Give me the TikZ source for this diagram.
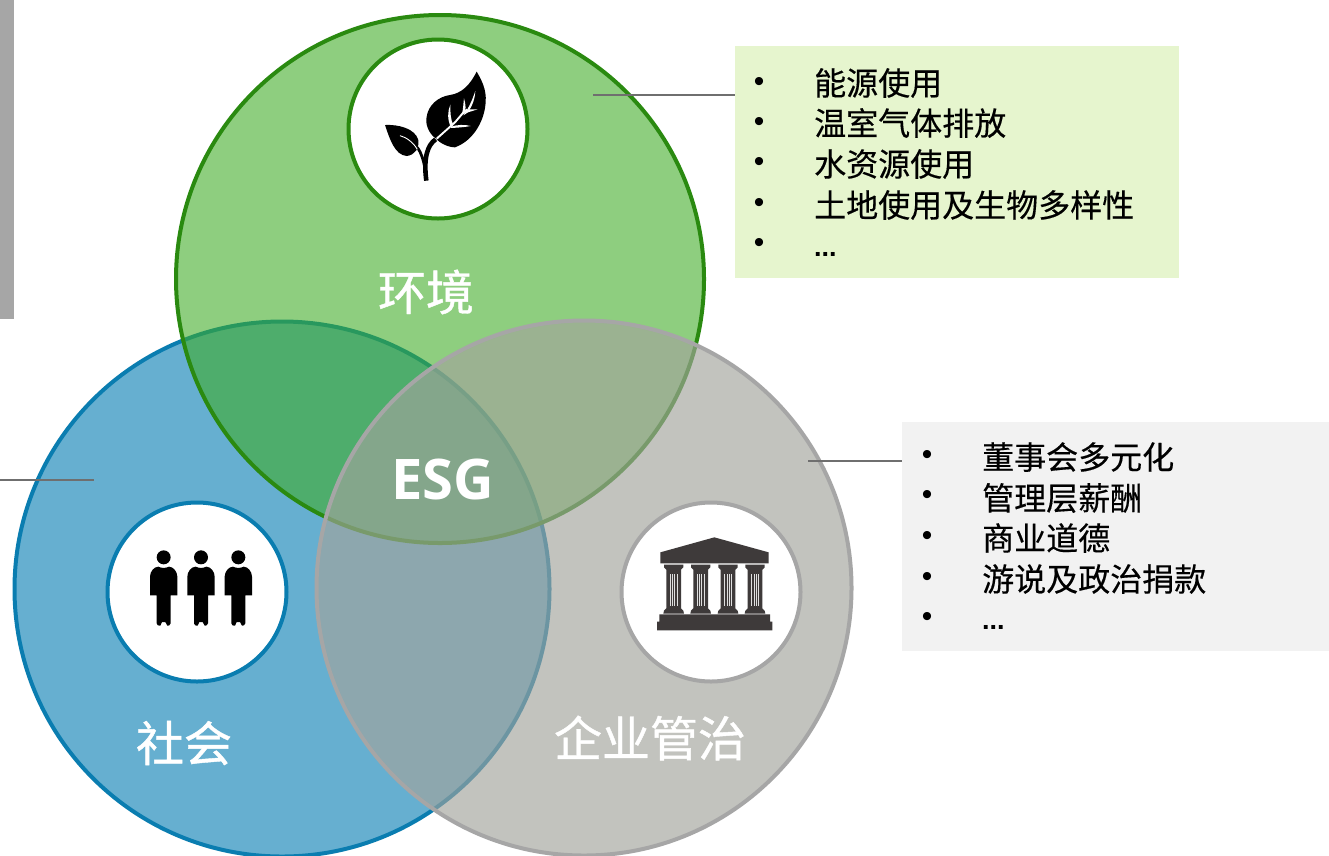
\documentclass[tikz,border=0pt]{standalone}
\usepackage{fontspec}
\newfontfamily\cjk[FakeBold=0.35]{Noto Sans CJK SC}
\newfontfamily\cjktitle[FakeBold=0.9]{Noto Sans CJK SC}
\newfontfamily\lat{Open Sans}
\newfontfamily\arial{Liberation Sans}
\definecolor{grnfill}{HTML}{3EAC24}
\definecolor{grnline}{HTML}{2A8A10}
\definecolor{blufill}{HTML}{66AFD0}
\definecolor{bluline}{HTML}{0A7DB0}
\definecolor{gryfill}{HTML}{A2A39C}
\definecolor{gryline}{HTML}{A6A6A6}
\definecolor{temple}{HTML}{3E3A3A}
\definecolor{boxgreen}{HTML}{E6F5CE}
\definecolor{boxgray}{HTML}{F2F2F2}
\definecolor{leader}{HTML}{6F6F6F}
\tikzset{
  bigc/.style={circle,inner sep=0pt,minimum size=#1,line width=4pt},
  iconc/.style={circle,inner sep=0pt,minimum size=179pt,line width=4pt,fill=white},
  title/.style={text=white,font=\cjktitle\fontsize{48}{48}\selectfont,inner sep=0pt},
  item/.style={anchor=west,font=\cjk\fontsize{32}{32}\selectfont,inner sep=0pt,text=black},
  dotb/.style={font=\arial\fontsize{30}{30}\selectfont,inner sep=0pt,text=black},
  more/.style={anchor=base west,font=\arial\bfseries\fontsize{27}{27}\selectfont,inner sep=0pt,text=black},
  lead/.style={draw=leader,line width=2pt},
  box/.style={anchor=north west,inner sep=0pt}
}
\begin{document}
\begin{tikzpicture}[x=1pt,y=-1pt]
\useasboundingbox (0,0) rectangle (1329,855);
\fill[white] (0,0) rectangle (1329,855);
\fill[gryline] (0,0) rectangle (14,319);

% list boxes
\node[box,fill=boxgreen,minimum width=444pt,minimum height=232pt] (boxE) at (735,46) {};
\node[box,fill=boxgray,minimum width=427pt,minimum height=229pt] (boxG) at (902,422) {};

% big circles
\node[bigc=535pt,fill=blufill,draw=bluline] (cS) at (282,589) {};
\node[bigc=528pt,fill=grnfill,fill opacity=.58,draw=grnline,draw opacity=1] (cE) at (440,279) {};
\node[bigc=535pt,fill=gryfill,fill opacity=.65,draw=gryline,draw opacity=1] (cG) at (584,588) {};

% icon circles
\node[iconc,draw=grnline] (iE) at (438,129) {};
\node[iconc,draw=bluline] (iS) at (197,592) {};
\node[iconc,draw=gryline] (iG) at (711,592) {};

% leaders
\coordinate (lE) at (593,95);
\coordinate (lG) at (808,461);
\coordinate (lS) at (94,480);
\coordinate (lSo) at (0,480);
\draw[lead] (lE) -- (lE -| boxE.west);
\draw[lead] (lG) -- (lG -| boxG.west);
\draw[lead] (lSo) -- (lS);

% leaf icon
\begin{scope}[shift={(340,30)},scale=1/3]
  \fill[black] (410,125) .. controls (425,150) and (440,180) .. (437,215)
    .. controls (435,265) and (405,330) .. (345,352)
    .. controls (325,352) and (300,340) .. (287,325)
    .. controls (265,310) and (255,280) .. (260,260)
    .. controls (265,225) and (295,200) .. (330,195)
    .. controls (365,190) and (390,165) .. (410,125) -- cycle;
  \fill[black] (135,285) .. controls (175,283) and (225,295) .. (235,330)
    .. controls (238,355) and (225,375) .. (200,378)
    .. controls (165,375) and (150,330) .. (135,285) -- cycle;
  \draw[black,line width=4.6pt] (287,328) .. controls (262,345) and (250,385) .. (259,452);
  \draw[black,line width=2.8pt] (232,352) .. controls (245,370) and (250,390) .. (256,420);
  \draw[white,line width=1.9pt] (290,326) -- (345,277) -- (368,250) -- (382,238);
  \fill[white] (382,238) -- (413,238) -- (384,247) -- (370,256) -- cycle;
  \fill[white] (382,238) .. controls (395,215) and (400,200) .. (406,183) .. controls (405,205) and (398,225) .. (388,240) -- cycle;
  \fill[white] (366,252) .. controls (370,235) and (370,220) .. (372,205) .. controls (378,225) and (378,240) .. (373,252) -- cycle;
  \fill[white] (333,290) .. controls (350,284) and (375,283) .. (392,288) .. controls (372,292) and (350,293) .. (333,294) -- cycle;
  \fill[white] (333,292) .. controls (322,270) and (322,245) .. (331,224) .. controls (331,250) and (332,270) .. (340,285) -- cycle;
  \draw[white,line width=.9pt] (180,317) .. controls (200,322) and (220,338) .. (232,358);
\end{scope}

% people icon
\begin{scope}[shift={(100,495)},scale=1/3]
  \foreach \dx in {0,112,224}{
    \begin{scope}[xshift=\dx]
      \fill[black] (191,187) circle[radius=21];
      \fill[black] (150,301) -- (150,245) .. controls (150,230) and (162,215) .. (175,215)
        .. controls (185,220) and (197,220) .. (207,215)
        .. controls (220,215) and (232,230) .. (232,245) -- (232,301) -- (212,301) -- (212,385)
        .. controls (212,392) and (204,392) .. (202,392) -- (196,381) -- (186,381) -- (181,392)
        .. controls (176,392) and (170,392) .. (170,385) -- (170,301) -- cycle;
    \end{scope}
  }
\end{scope}

% temple icon
\begin{scope}[shift={(615,495)},scale=1/3]
  \fill[temple] (136,172) -- (298,127) -- (461,172) -- (461,205) -- (136,205) -- cycle;
  \foreach \cx in {176,257,339,420}{
    \begin{scope}[xshift=\cx]
      \fill[temple] (-29,209) -- (29,209) -- (29,217) -- (22,224) -- (22,340) -- (29,347) -- (31,356) -- (-31,356) -- (-29,347) -- (-22,340) -- (-22,224) -- (-29,217) -- cycle;
      \foreach \fx in {-10,-3.3,3.3,10}{
        \draw[white!75!gray,line width=.8pt] (\fx,238) -- (\fx,332);
      }
    \end{scope}
  }
  \fill[temple] (133,358) -- (465,358) -- (465,380) -- (472,380) -- (472,406) -- (126,406) -- (126,380) -- (133,380) -- cycle;
\end{scope}

% titles
\node[title] (tE) at (426,292) {环境};
\node[title] (tS) at (184,743) {社会};
\node[title] (tG) at (650,738) {企业管治};
\node[text=white,font=\lat\bfseries\fontsize{56}{56}\selectfont,inner sep=0pt] (tC) at (443,479) {ESG};

% environment list
\node[dotb] (eb1) at (759,84) {•};
\node[dotb] (eb2) at (759,124) {•};
\node[dotb] (eb3) at (759,164) {•};
\node[dotb] (eb4) at (759,205) {•};
\node[dotb] (eb5) at (759,245) {•};
\node[item] (et1) at (814,83) {能源使用};
\node[item] (et2) at (814,123) {温室气体排放};
\node[item] (et3) at (814,164) {水资源使用};
\node[item] (et4) at (814,205) {土地使用及生物多样性};
\node[more] (et5) at (814,256) {...};

% governance list
\node[dotb] (gb1) at (927,457) {•};
\node[dotb] (gb2) at (927,497) {•};
\node[dotb] (gb3) at (927,538) {•};
\node[dotb] (gb4) at (927,579) {•};
\node[dotb] (gb5) at (927,619) {•};
\node[item] (gt1) at (982,457) {董事会多元化};
\node[item] (gt2) at (982,498) {管理层薪酬};
\node[item] (gt3) at (982,538) {商业道德};
\node[item] (gt4) at (982,579) {游说及政治捐款};
\node[more] (gt5) at (982,629) {...};
\end{tikzpicture}
\end{document}
